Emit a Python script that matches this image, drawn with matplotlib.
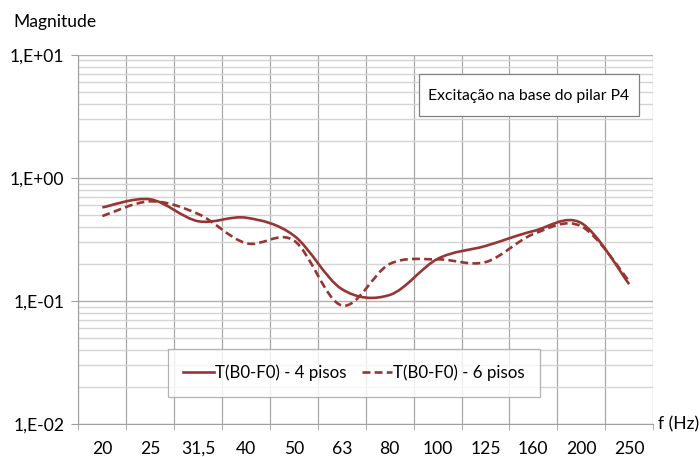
import numpy as np
import matplotlib
matplotlib.use("Agg")
import matplotlib.pyplot as plt
from matplotlib.path import Path
from matplotlib.patches import PathPatch, Rectangle
from matplotlib.lines import Line2D

plt.rcParams['font.family'] = ['Lato', 'DejaVu Sans']

# third-octave bands (Hz)
bands = ['20', '25', '31,5', '40', '50', '63', '80', '100', '125', '160', '200', '250']
# transmissibility
t_4pisos = [0.576, 0.67, 0.445, 0.475, 0.34, 0.125, 0.112, 0.22, 0.28, 0.37, 0.43, 0.137]
t_6pisos = [0.49, 0.645, 0.51, 0.295, 0.31, 0.092, 0.20, 0.218, 0.207, 0.35, 0.405, 0.145]

red = '#963634'
fs = 12.6


def smooth_path(vals):
    # excel-like smoothed line: bezier segments built in (index, log10) space
    x = np.arange(len(vals), dtype=float)
    ly = np.log10(vals)
    n = len(vals)
    verts = [(x[0], vals[0])]
    codes = [Path.MOVETO]
    for i in range(n - 1):
        a = max(i - 1, 0)
        b = min(i + 2, n - 1)
        c1x = x[i] + (x[i + 1] - x[a]) / 6
        c1y = ly[i] + (ly[i + 1] - ly[a]) / 6
        c2x = x[i + 1] - (x[b] - x[i]) / 6
        c2y = ly[i + 1] - (ly[b] - ly[i]) / 6
        verts += [(c1x, 10 ** c1y), (c2x, 10 ** c2y), (x[i + 1], vals[i + 1])]
        codes += [Path.CURVE4] * 3
    return Path(verts, codes)


fig = plt.figure(figsize=(7, 4.57), dpi=100)
ax = fig.add_axes([0.112, 0.072, 0.821, 0.808])
ax.set_yscale('log')
ax.set_ylim(1e-2, 1e1)
ax.set_xlim(-0.5, len(bands) - 0.5)

ax.add_patch(PathPatch(smooth_path(t_4pisos), fill=False, edgecolor=red, lw=1.9,
                       transform=ax.transData, zorder=3))
ax.add_patch(PathPatch(smooth_path(t_6pisos), fill=False, edgecolor=red, lw=1.9,
                       linestyle=(0, (3, 1.6)), transform=ax.transData, zorder=3))

# grid
ax.yaxis.grid(True, which='minor', color='#d4d4d4', lw=1)
ax.yaxis.grid(True, which='major', color='#b0b0b0', lw=1)
ax.set_xticks(np.arange(-0.5, len(bands)), minor=True)
ax.xaxis.grid(True, which='minor', color='#a8a8a8', lw=0.9)
ax.set_axisbelow(True)

ax.set_xticks(np.arange(len(bands)))
ax.set_xticklabels(bands)
ax.set_yticks([1e-2, 1e-1, 1e0, 1e1])
ax.set_yticklabels(['1,E-02', '1,E-01', '1,E+00', '1,E+01'])
ax.tick_params(axis='x', which='major', length=0, pad=12, labelsize=fs, colors='#000000')
ax.tick_params(axis='x', which='minor', length=4.5, color='#a0a0a0', direction='out')
ax.tick_params(axis='y', which='major', length=5, color='#a0a0a0', labelsize=fs, pad=5)
ax.tick_params(axis='y', which='minor', length=0)

for s in ['top', 'right']:
    ax.spines[s].set_visible(False)
for s in ['left', 'bottom']:
    ax.spines[s].set_color('#a0a0a0')

fig.text(13 / 700, 1 - 22 / 457, 'Magnitude', fontsize=fs, va='center', ha='left')
fig.text(658 / 700, 1 - 424 / 457, 'f (Hz)', fontsize=fs, va='center', ha='left')

# text box in the upper right
fig.patches.append(Rectangle((419 / 700, 1 - 116 / 457), 220 / 700, 42 / 457,
                             transform=fig.transFigure, fc='white', ec='#808080',
                             lw=0.9, zorder=5))
fig.text(529 / 700, 1 - 96 / 457, 'Excitação na base do pilar P4', fontsize=11.3,
         ha='center', va='center', zorder=6)

handles = [Line2D([], [], color=red, lw=1.9),
           Line2D([], [], color=red, lw=1.9, linestyle=(0, (3, 1.6)))]
leg = fig.legend(handles, ['T(B0-F0) - 4 pisos', 'T(B0-F0) - 6 pisos'],
                 loc='center', bbox_to_anchor=(354 / 700, 1 - 373 / 457), ncol=2,
                 fontsize=12.2, frameon=True, fancybox=False, handlelength=1.8,
                 handletextpad=0.05, columnspacing=0.9, borderpad=0.9,
                 borderaxespad=0)
leg.get_frame().set_edgecolor('#a0a0a0')
leg.get_frame().set_linewidth(0.9)

fig.savefig('out.png', dpi=100)
